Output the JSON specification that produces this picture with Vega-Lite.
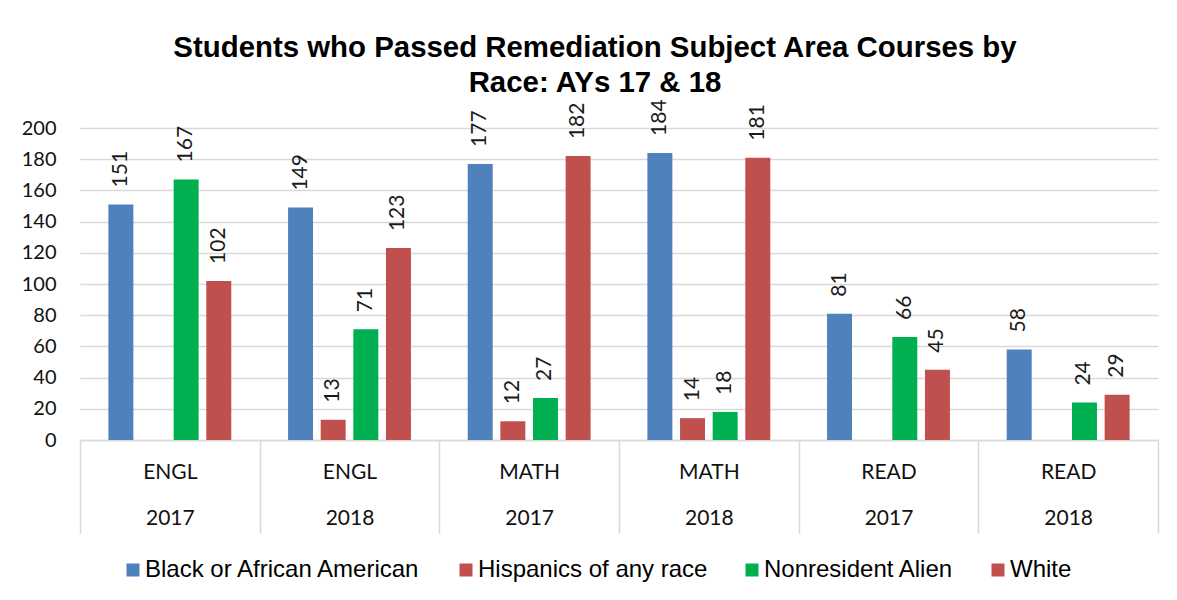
{
  "$schema": "https://vega.github.io/schema/vega-lite/v6.json",
  "width": 1078,
  "height": 312,
  "autosize": {"type": "none"},
  "padding": {"left": 80, "top": 128, "right": 19, "bottom": 160},
  "background": "white",
  "title": {
    "text": ["Students who Passed Remediation Subject Area Courses by", "Race: AYs 17 & 18"],
    "font": "Liberation Sans",
    "fontSize": 29.4,
    "fontWeight": "bold",
    "color": "#000000",
    "anchor": "middle",
    "frame": "group",
    "baseline": "alphabetic",
    "lineHeight": 35,
    "offset": -22,
    "dx": -24
  },
  "data": {
    "values": [
      {"group": "ENGL|2017", "race": "Black or African American", "value": 151},
      {"group": "ENGL|2017", "race": "Nonresident Alien", "value": 167},
      {"group": "ENGL|2017", "race": "White", "value": 102},
      {"group": "ENGL|2018", "race": "Black or African American", "value": 149},
      {"group": "ENGL|2018", "race": "Hispanics of any race", "value": 13},
      {"group": "ENGL|2018", "race": "Nonresident Alien", "value": 71},
      {"group": "ENGL|2018", "race": "White", "value": 123},
      {"group": "MATH|2017", "race": "Black or African American", "value": 177},
      {"group": "MATH|2017", "race": "Hispanics of any race", "value": 12},
      {"group": "MATH|2017", "race": "Nonresident Alien", "value": 27},
      {"group": "MATH|2017", "race": "White", "value": 182},
      {"group": "MATH|2018", "race": "Black or African American", "value": 184},
      {"group": "MATH|2018", "race": "Hispanics of any race", "value": 14},
      {"group": "MATH|2018", "race": "Nonresident Alien", "value": 18},
      {"group": "MATH|2018", "race": "White", "value": 181},
      {"group": "READ|2017", "race": "Black or African American", "value": 81},
      {"group": "READ|2017", "race": "Nonresident Alien", "value": 66},
      {"group": "READ|2017", "race": "White", "value": 45},
      {"group": "READ|2018", "race": "Black or African American", "value": 58},
      {"group": "READ|2018", "race": "Nonresident Alien", "value": 24},
      {"group": "READ|2018", "race": "White", "value": 29}
    ]
  },
  "encoding": {
    "x": {
      "field": "group",
      "type": "nominal",
      "sort": ["ENGL|2017", "ENGL|2018", "MATH|2017", "MATH|2018", "READ|2017", "READ|2018"],
      "scale": {"paddingInner": 0, "paddingOuter": 0},
      "axis": {
        "title": null,
        "labelAngle": 0,
        "labelExpr": "indexof(datum.label + '', '|') >= 0 ? split(datum.label + '', '|') : ''",
        "labelFont": "Lato",
        "labelFontSize": 21,
        "labelColor": "#111111",
        "labelLineHeight": 46,
        "labelBaseline": "middle",
        "labelPadding": -61,
        "tickBand": "extent",
        "tickSize": 93,
        "tickColor": "#d9d9d9",
        "tickWidth": 1.5,
        "domainColor": "#d9d9d9",
        "domainWidth": 1.5,
        "grid": false
      }
    },
    "xOffset": {
      "field": "race",
      "type": "nominal",
      "scale": {
        "domain": ["Black or African American", "Hispanics of any race", "Nonresident Alien", "White"],
        "paddingInner": 0.235,
        "paddingOuter": 0.87
      }
    },
    "y": {
      "field": "value",
      "type": "quantitative",
      "scale": {"domain": [0, 200], "nice": false},
      "axis": {
        "title": null,
        "values": [0, 20, 40, 60, 80, 100, 120, 140, 160, 180, 200],
        "labelFont": "Lato",
        "labelFontSize": 20,
        "labelColor": "#111111",
        "labelPadding": 24,
        "ticks": false,
        "domain": false,
        "gridColor": "#d9d9d9",
        "gridWidth": 1.5
      }
    }
  },
  "layer": [
    {
      "mark": {"type": "bar"},
      "encoding": {
        "color": {
          "field": "race",
          "type": "nominal",
          "scale": {
            "domain": ["Black or African American", "Hispanics of any race", "Nonresident Alien", "White"],
            "range": ["#4F81BD", "#C0504D", "#00B050", "#C0504D"]
          },
          "legend": {
            "title": null,
            "orient": "none",
            "legendX": 41,
            "legendY": 430,
            "direction": "horizontal",
            "symbolType": "square",
            "symbolSize": 169,
            "symbolStrokeWidth": 0,
            "labelFont": "Liberation Sans",
            "labelFontSize": 24,
            "labelColor": "#000000",
            "labelOffset": 0,
            "labelLimit": 0,
            "columnPadding": 32
          }
        }
      }
    },
    {
      "mark": {
        "type": "text",
        "angle": 270,
        "align": "left",
        "baseline": "middle",
        "dx": 17,
        "font": "Lato",
        "fontSize": 21,
        "color": "#1a1a1a"
      },
      "encoding": {
        "text": {"field": "value", "type": "quantitative"}
      }
    }
  ],
  "config": {
    "view": {"stroke": null}
  }
}
